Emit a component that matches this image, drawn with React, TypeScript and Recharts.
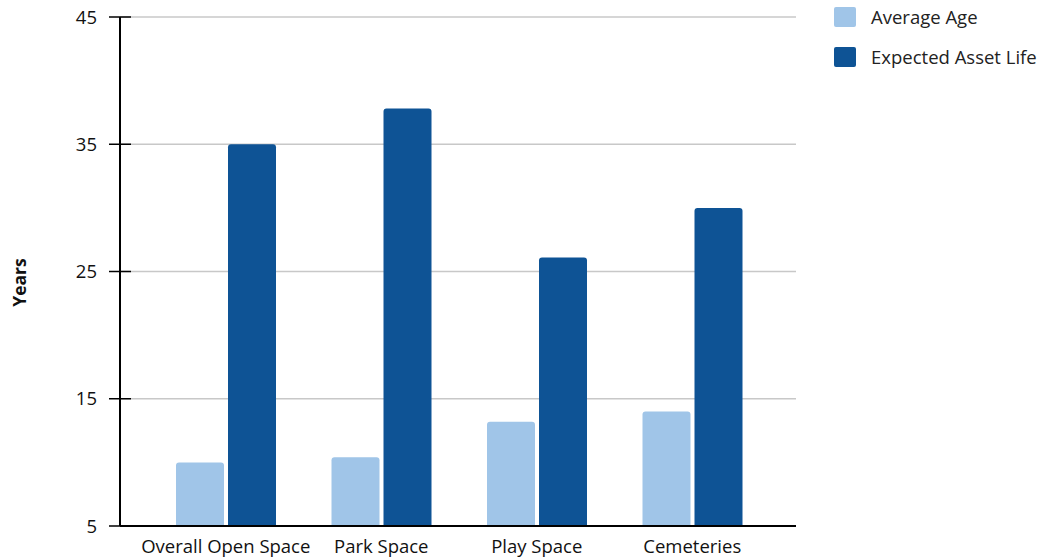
import { Bar, BarChart, CartesianGrid, Legend, XAxis, YAxis } from 'recharts'

const categories = ['Overall Open Space', 'Park Space', 'Play Space', 'Cemeteries']
const averageAge = [10, 10.4, 13.2, 14]
const expectedLife = [35, 37.8, 26.1, 30]
const yTicks = [5, 15, 25, 35, 45]

const LIGHT = '#a0c5e8'
const DARK = '#0e5395'
const FONT = '"Open Sans", sans-serif'
const SIZE = 18.5

const data = categories.map((name, i) => ({
  name,
  age: averageAge[i],
  life: expectedLife[i],
}))

const series = [
  { key: 'age', label: 'Average Age', color: LIGHT },
  { key: 'life', label: 'Expected Asset Life', color: DARK },
]

// y tick: label plus a short black tick that crosses the axis line
function YTick({ x, y, payload }: any) {
  return (
    <g>
      <line x1={x + 12} x2={x + 34} y1={y} y2={y} stroke="#000" strokeWidth={1.5} />
      <text x={x} y={y} dy="0.36em" textAnchor="end" fontSize={SIZE} fill="#111" fontFamily={FONT}>
        {payload.value}
      </text>
    </g>
  )
}

// rotated axis title, sitting a little below the plot's middle
function YearsLabel({ viewBox }: any) {
  const cx = viewBox.x + 26
  const cy = viewBox.y + viewBox.height / 2 + 11
  return (
    <text
      x={cx}
      y={cy}
      transform={`rotate(-90 ${cx} ${cy})`}
      textAnchor="middle"
      fontFamily={FONT}
      fontSize={17.5}
      fontWeight="bold"
      fill="#111"
    >
      Years
    </text>
  )
}

function LegendBox() {
  return (
    <div style={{ fontFamily: FONT, fontSize: SIZE, color: '#222', lineHeight: '20px' }}>
      {series.map((s) => (
        <div key={s.key} style={{ display: 'flex', alignItems: 'center', height: 20, marginBottom: 20 }}>
          <span style={{ width: 22, height: 20, background: s.color, borderRadius: 2, marginRight: 15 }} />
          <span>{s.label}</span>
        </div>
      ))}
    </div>
  )
}

export default function App() {
  return (
    <div style={{ position: 'absolute', left: 0, top: 0 }}>
      <BarChart
        width={1048}
        height={560}
        data={data}
        margin={{ top: 17, right: 252, bottom: 4, left: 0 }}
        barSize={48}
        barGap={4}
      >
        <CartesianGrid vertical={false} stroke="#c8c8c8" strokeWidth={1.5} />
        <XAxis
          dataKey="name"
          height={30}
          padding={{ left: 28, right: 26 }}
          tickLine={false}
          axisLine={{ stroke: '#000', strokeWidth: 2 }}
          tick={{ fontSize: SIZE, fill: '#111', fontFamily: FONT }}
          tickMargin={8}
          interval={0}
        />
        <YAxis
          width={120}
          domain={[5, 45]}
          ticks={yTicks}
          tickLine={false}
          tickSize={11}
          tickMargin={12}
          axisLine={{ stroke: '#000', strokeWidth: 2 }}
          tick={<YTick />}
          label={{ content: <YearsLabel /> }}
        />
        <Legend
          layout="vertical"
          align="center"
          verticalAlign="middle"
          wrapperStyle={{ top: 7, left: 834, width: 214 }}
          content={<LegendBox />}
        />
        {series.map((s) => (
          <Bar
            key={s.key}
            dataKey={s.key}
            name={s.label}
            fill={s.color}
            radius={[3, 3, 0, 0]}
            isAnimationActive={false}
          />
        ))}
      </BarChart>
    </div>
  )
}
